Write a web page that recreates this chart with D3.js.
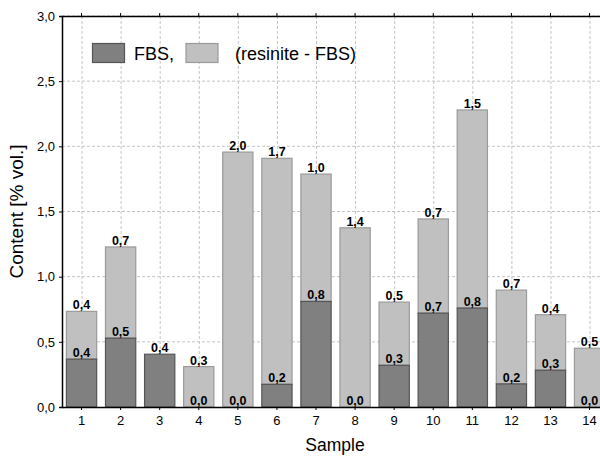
<!DOCTYPE html>
<html><head><meta charset="utf-8">
<script src="https://cdn.jsdelivr.net/npm/d3@7"></script>
<style>body{margin:0;background:#fff;} svg{display:block;font-family:"Liberation Sans",Arial,sans-serif;}</style>
</head><body>
<svg id="c" width="600" height="456"></svg>
<script>
const samples = ["1","2","3","4","5","6","7","8","9","10","11","12","13","14"];
const fbs   = [0.367,0.528,0.405,0.0,0.0,0.174,0.81,0.0,0.32,0.72,0.759,0.177,0.282,0.0];
const diff  = [0.367,0.700,0.0,0.31,1.956,1.734,0.977,1.375,0.485,0.723,1.520,0.720,0.426,0.451];
const fbsLabels  = ["0,4","0,5","0,4","0,0","0,0","0,2","0,8","0,0","0,3","0,7","0,8","0,2","0,3","0,0"];
const diffLabels = ["0,4","0,7",null,"0,3","2,0","1,7","1,0","1,4","0,5","0,7","1,5","0,7","0,4","0,5"];
const yTicks = [0,0.5,1.0,1.5,2.0,2.5,3.0];
const seriesNames = ["FBS,","(resinite - FBS)"];

const svg = d3.select("#c");
const L = 62, R = 609.1, T = 16, B = 407;
const x = d3.scaleBand().domain(samples).range([L, R]).paddingInner(0.2).paddingOuter(0.1);
const y = d3.scaleLinear().domain([0,3]).range([B, T]);
const fmt = v => d3.format(".1f")(v).replace(".", ",");

// grid
const g = svg.append("g");
g.selectAll(".hg").data(yTicks.slice(1)).join("line")
  .attr("x1", L).attr("x2", 600).attr("y1", d => y(d)).attr("y2", d => y(d))
  .attr("stroke", "#c4c4c4").attr("stroke-dasharray", "3,2").attr("stroke-width", 1);
g.selectAll(".vg").data(samples).join("line")
  .attr("x1", d => x(d) + x.bandwidth()/2 + 0.5).attr("x2", d => x(d) + x.bandwidth()/2 + 0.5)
  .attr("y1", T).attr("y2", B)
  .attr("stroke", "#c4c4c4").attr("stroke-dasharray", "3,2").attr("stroke-width", 1);

// bars
const bw = x.bandwidth();
svg.append("g").selectAll("rect").data(samples).join("rect")
  .attr("x", d => x(d) + 0.5).attr("width", bw - 1)
  .attr("y", (d,i) => y(fbs[i] + diff[i])).attr("height", (d,i) => y(fbs[i]) - y(fbs[i] + diff[i]))
  .attr("fill", "#c0c0c0").attr("stroke", "#9a9a9a").attr("stroke-width", 1.2);
svg.append("g").selectAll("rect").data(samples).join("rect")
  .attr("x", d => x(d) + 0.5).attr("width", bw - 1)
  .attr("y", (d,i) => y(fbs[i])).attr("height", (d,i) => y(0) - y(fbs[i]))
  .attr("fill", "#808080").attr("stroke", "#555555").attr("stroke-width", 1.2);

// labels
const lab = svg.append("g").attr("font-size", 12.5).attr("font-weight", "bold").attr("text-anchor", "middle").attr("fill", "#000");
lab.selectAll(".lf").data(samples).join("text")
  .attr("x", d => x(d) + bw/2).attr("y", (d,i) => y(fbs[i]) - 2)
  .text((d,i) => fbsLabels[i]);
lab.selectAll(".ld").data(samples.filter((d,i) => diffLabels[i] !== null)).join("text")
  .attr("x", d => x(d) + bw/2).attr("y", d => { const i = samples.indexOf(d); return y(fbs[i] + diff[i]) - 2; })
  .text(d => diffLabels[samples.indexOf(d)]);

// axes
const yAxis = d3.axisLeft(y).tickValues(yTicks).tickSize(3).tickFormat(fmt);
const ya = svg.append("g").attr("transform", `translate(${L},0)`).call(yAxis);
ya.select(".domain").attr("stroke", "#000").attr("stroke-width", 1.5);
ya.selectAll("text").attr("font-size", 13).attr("font-family", "Liberation Sans, Arial, sans-serif").attr("fill", "#000").attr("dx", "-1");
const xAxis = d3.axisBottom(x).tickSize(3).tickSizeOuter(0);
const xa = svg.append("g").attr("transform", `translate(0,${B})`).call(xAxis);
xa.select(".domain").attr("stroke", "#000").attr("stroke-width", 1.5);
xa.selectAll("text").attr("font-size", 13).attr("font-family", "Liberation Sans, Arial, sans-serif").attr("fill", "#000").attr("dy", "0.95em");
const xt = d3.axisTop(x).tickSize(3).tickFormat("").tickSizeOuter(0);
const xta = svg.append("g").attr("transform", `translate(0,${T})`).call(xt);
xta.select(".domain").attr("stroke", "#000").attr("stroke-width", 1.5);

// titles
svg.append("text").attr("x", 335).attr("y", 451).attr("text-anchor", "middle")
  .attr("font-size", 17.5).text("Sample");
svg.append("text").attr("transform", `translate(23,${(T+B)/2}) rotate(-90)`).attr("text-anchor", "middle")
  .attr("font-size", 19).text("Content [% vol.]");

// legend
const leg = svg.append("g");
leg.append("rect").attr("x", 92.5).attr("y", 43.5).attr("width", 32).attr("height", 19)
  .attr("fill", "#808080").attr("stroke", "#555555").attr("stroke-width", 1.2);
leg.append("text").attr("x", 134).attr("y", 60).attr("font-size", 18).text(seriesNames[0]);
leg.append("rect").attr("x", 186).attr("y", 43.5).attr("width", 32).attr("height", 19)
  .attr("fill", "#c0c0c0").attr("stroke", "#9a9a9a").attr("stroke-width", 1.2);
leg.append("text").attr("x", 235).attr("y", 60).attr("font-size", 18).text(seriesNames[1]);
</script>
</body></html>
